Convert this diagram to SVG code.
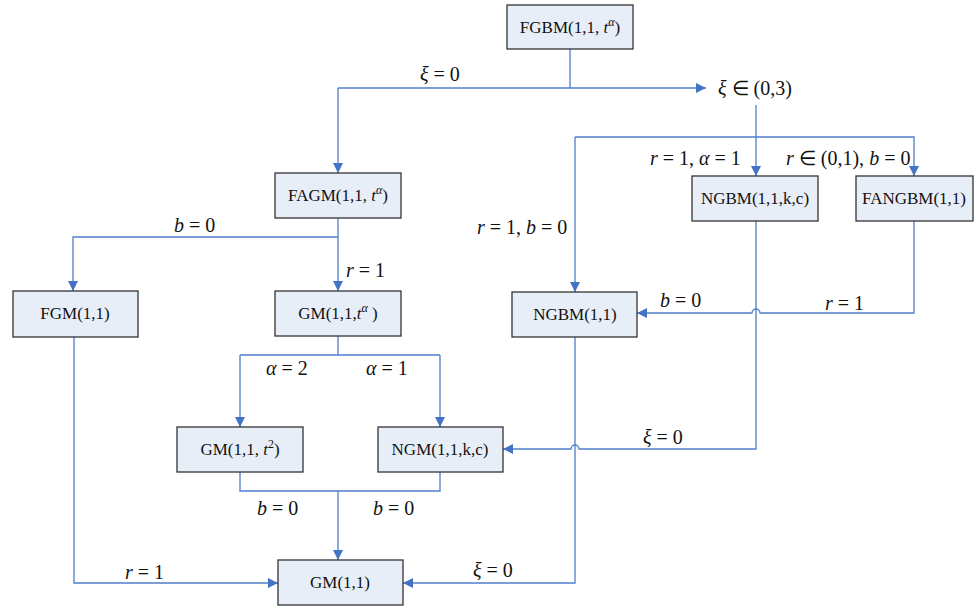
<svg xmlns="http://www.w3.org/2000/svg" width="976" height="606" viewBox="0 0 976 606">
<defs>
<marker id="ah" viewBox="0 0 10 10" refX="10" refY="5" markerWidth="10" markerHeight="10" markerUnits="userSpaceOnUse" orient="auto">
<path d="M0,0 L10,5 L0,10 Z" fill="#4472C4"/>
</marker>
<style>
.box{fill:#E8EEF8;stroke:#333;stroke-width:1.3}
.bt{font-family:"Liberation Serif",serif;font-size:17px;fill:#111;text-anchor:middle}
.ln{fill:none;stroke:#4F7FC8;stroke-width:1.3}
.lb{font-family:"Liberation Serif",serif;font-size:20px;fill:#111}
.i{font-style:italic}
.sp{font-size:12px;font-style:italic}
</style>
</defs>
<rect width="976" height="606" fill="#fff"/>
<g id="connectors">
<path class="ln" d="M570,49 V88"/>
<path class="ln" d="M338,88 H706" marker-end="url(#ah)"/>
<path class="ln" d="M338,88 V173" marker-end="url(#ah)"/>
<path class="ln" d="M756,105 V176" marker-end="url(#ah)"/>
<path class="ln" d="M575,137 H914 V176" marker-end="url(#ah)"/>
<path class="ln" d="M575,137 V292" marker-end="url(#ah)"/>
<path class="ln" d="M338,218 V291" marker-end="url(#ah)"/>
<path class="ln" d="M338,237 H73 V291" marker-end="url(#ah)"/>
<path class="ln" d="M914,221 V313 H760 A4,4 0 0 0 752,313 H637" marker-end="url(#ah)"/>
<path class="ln" d="M756,221 V449 H579 A4,4 0 0 0 571,449 H503" marker-end="url(#ah)"/>
<path class="ln" d="M338,336 V355"/>
<path class="ln" d="M240,355 H440"/>
<path class="ln" d="M240,355 V427" marker-end="url(#ah)"/>
<path class="ln" d="M440,355 V427" marker-end="url(#ah)"/>
<path class="ln" d="M240,472 V491 H440 V472"/>
<path class="ln" d="M338,491 V560" marker-end="url(#ah)"/>
<path class="ln" d="M74,337 V583 H278" marker-end="url(#ah)"/>
<path class="ln" d="M575,337 V583 H403" marker-end="url(#ah)"/>
</g>
<g id="labels">
<text class="lb" x="420" y="81"><tspan class="i">ξ</tspan> = 0</text>
<text class="lb" x="718" y="95"><tspan class="i">ξ</tspan> ∈ (0,3)</text>
<text class="lb" x="174" y="232"><tspan class="i">b</tspan> = 0</text>
<text class="lb" x="346" y="277"><tspan class="i">r</tspan> = 1</text>
<text class="lb" x="650" y="165"><tspan class="i">r</tspan> = 1, <tspan class="i">α</tspan> = 1</text>
<text class="lb" x="786" y="165"><tspan class="i">r</tspan> ∈ (0,1), <tspan class="i">b</tspan> = 0</text>
<text class="lb" x="477" y="234"><tspan class="i">r</tspan> = 1, <tspan class="i">b</tspan> = 0</text>
<text class="lb" x="660" y="307"><tspan class="i">b</tspan> = 0</text>
<text class="lb" x="825" y="310"><tspan class="i">r</tspan> = 1</text>
<text class="lb" x="266" y="375"><tspan class="i">α</tspan> = 2</text>
<text class="lb" x="366" y="375"><tspan class="i">α</tspan> = 1</text>
<text class="lb" x="643" y="444"><tspan class="i">ξ</tspan> = 0</text>
<text class="lb" x="257" y="515"><tspan class="i">b</tspan> = 0</text>
<text class="lb" x="373" y="515"><tspan class="i">b</tspan> = 0</text>
<text class="lb" x="125" y="579"><tspan class="i">r</tspan> = 1</text>
<text class="lb" x="473" y="577"><tspan class="i">ξ</tspan> = 0</text>
</g>
<g id="FGBM">
<rect class="box" x="507" y="5" width="126" height="44"/>
<text class="bt" x="570" y="33">FGBM(1,1, <tspan class="i">t</tspan><tspan class="sp" dy="-7">α</tspan><tspan dy="7">)</tspan></text>
</g>
<g id="FAGM">
<rect class="box" x="275" y="173" width="126" height="45"/>
<text class="bt" x="338" y="201">FAGM(1,1, <tspan class="i">t</tspan><tspan class="sp" dy="-7">α</tspan><tspan dy="7">)</tspan></text>
</g>
<g id="NGBMkc">
<rect class="box" x="692" y="176" width="126" height="45"/>
<text class="bt" x="755" y="204">NGBM(1,1,k,c)</text>
</g>
<g id="FANGBM">
<rect class="box" x="856" y="176" width="117" height="45"/>
<text class="bt" x="914" y="204">FANGBM(1,1)</text>
</g>
<g id="FGM">
<rect class="box" x="13" y="291" width="125" height="46"/>
<text class="bt" x="75" y="319">FGM(1,1)</text>
</g>
<g id="GMta">
<rect class="box" x="275" y="291" width="126" height="45"/>
<text class="bt" x="338" y="319">GM(1,1,<tspan class="i">t</tspan><tspan class="sp" dy="-7">α</tspan><tspan dy="7"> )</tspan></text>
</g>
<g id="NGBM">
<rect class="box" x="512" y="292" width="125" height="45"/>
<text class="bt" x="575" y="320">NGBM(1,1)</text>
</g>
<g id="GMt2">
<rect class="box" x="177" y="427" width="126" height="45"/>
<text class="bt" x="240" y="455">GM(1,1, <tspan class="i">t</tspan><tspan font-size="12" dy="-7">2</tspan><tspan dy="7">)</tspan></text>
</g>
<g id="NGM">
<rect class="box" x="378" y="427" width="125" height="45"/>
<text class="bt" x="440" y="455">NGM(1,1,k,c)</text>
</g>
<g id="GM11">
<rect class="box" x="278" y="560" width="125" height="45"/>
<text class="bt" x="340" y="588">GM(1,1)</text>
</g>
</svg>
